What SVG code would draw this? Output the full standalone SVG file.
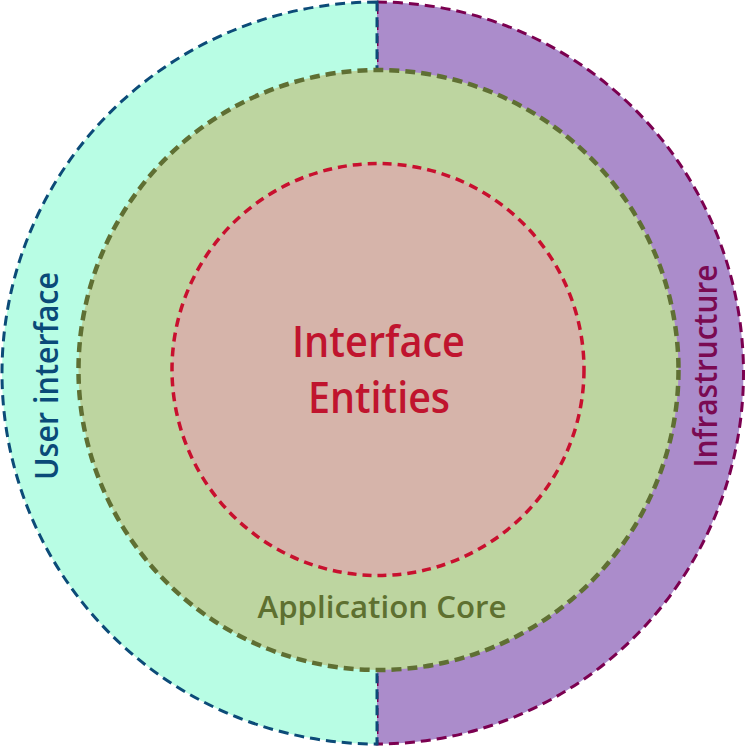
<svg xmlns="http://www.w3.org/2000/svg" width="746" height="746" viewBox="0 0 746 746">
<style>
.lbl{font-family:"Open Sans","Noto Sans","Liberation Sans",sans-serif;font-weight:600;text-anchor:middle}
.infra{fill:#ab8ccb;stroke:#7b0050;stroke-width:3;stroke-dasharray:10 6}
.ui{fill:#b8fde4;stroke:#0c4b78;stroke-width:3;stroke-dasharray:10 6}
.core{fill:#bdd5a0;stroke:#5f6f33;stroke-width:4.5;stroke-dasharray:10 6}
.ent{fill:#d6b4aa;stroke:#c8102e;stroke-width:3.5;stroke-dasharray:9 6}
</style>
<rect width="746" height="746" fill="#ffffff"/>
<g id="infrastructure">
<path class="infra" d="M377,2 A366.5,371 0 0 1 377,744 Z"/>
<text class="lbl" transform="translate(717,366) rotate(-90)" font-size="33" fill="#7a0a52" textLength="203" lengthAdjust="spacingAndGlyphs">Infrastructure</text>
</g>
<g id="user-interface">
<path class="ui" d="M377,2 A375,371 0 0 0 377,744 Z"/>
<text class="lbl" transform="translate(58,376) rotate(-90)" font-size="33" fill="#0a4a78" textLength="208" lengthAdjust="spacingAndGlyphs">User interface</text>
</g>
<g id="application-core">
<circle class="core" cx="378.5" cy="370" r="300"/>
<text class="lbl" x="382" y="618" font-size="31" fill="#5e7030" textLength="249" lengthAdjust="spacingAndGlyphs">Application Core</text>
</g>
<g id="entities">
<circle class="ent" cx="378" cy="369.5" r="206"/>
<text class="lbl" x="378.5" y="357" font-size="44" fill="#c0142e" textLength="173" lengthAdjust="spacingAndGlyphs">Interface</text>
<text class="lbl" x="379" y="413" font-size="44" fill="#c0142e" textLength="142" lengthAdjust="spacingAndGlyphs">Entities</text>
</g>
<g id="connectors"></g>
</svg>
